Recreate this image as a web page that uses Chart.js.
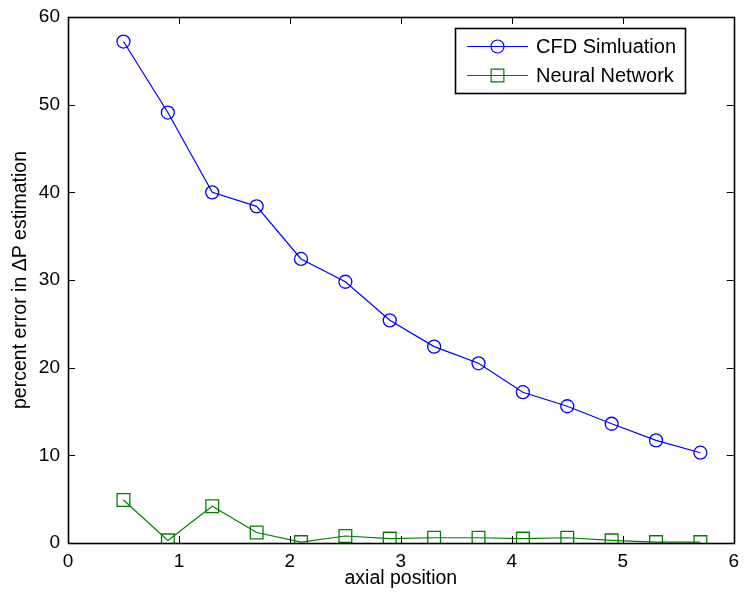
<!DOCTYPE html>
<html>
<head>
<meta charset="utf-8">
<script src="https://cdn.jsdelivr.net/npm/chart.js@4/dist/chart.umd.min.js"></script>
<style>
  html, body { margin: 0; padding: 0; background: #fff; }
  #wrap { width: 744px; height: 596px; }
</style>
</head>
<body>
<div id="wrap"><canvas id="c" width="744" height="596"></canvas></div>
<script>
// ---- data ----
const axialPosition = [0.5, 0.9, 1.3, 1.7, 2.1, 2.5, 2.9, 3.3, 3.7, 4.1, 4.5, 4.9, 5.3, 5.7];
const cfdSimulation = [57.2, 49.1, 40.0, 38.4, 32.4, 29.8, 25.4, 22.4, 20.5, 17.2, 15.6, 13.6, 11.7, 10.3];
const neuralNetwork = [4.9, 0.3, 4.2, 1.2, 0.1, 0.8, 0.5, 0.6, 0.6, 0.5, 0.6, 0.3, 0.1, 0.1];
const seriesNames = ['CFD Simluation', 'Neural Network'];
const xTicks = [0, 1, 2, 3, 4, 5, 6];
const yTicks = [0, 10, 20, 30, 40, 50, 60];
const xTitle = 'axial position';
const yTitle = 'percent error in \u0394P estimation';

const FONT = 'Liberation Sans, Arial, Helvetica, sans-serif';
const FS = 19;

function pts(xs, ys) { return xs.map((x, i) => ({ x: x, y: ys[i] })); }

// inward ticks on all four sides + box + legend
const boxPlugin = {
  id: 'boxPlugin',
  afterDatasetsDraw(chart) {
    const ctx = chart.ctx;
    const a = chart.chartArea;
    const xs = chart.scales.x, ys = chart.scales.y;
    const L = 7;
    ctx.save();
    ctx.strokeStyle = '#000';
    ctx.lineWidth = 1;
    ctx.beginPath();
    xTicks.forEach(v => {
      const p = Math.round(xs.getPixelForValue(v)) + 0.5;
      ctx.moveTo(p, a.bottom); ctx.lineTo(p, a.bottom - L);
      ctx.moveTo(p, a.top); ctx.lineTo(p, a.top + L);
    });
    yTicks.forEach(v => {
      const p = Math.round(ys.getPixelForValue(v)) + 0.5;
      ctx.moveTo(a.left, p); ctx.lineTo(a.left + L, p);
      ctx.moveTo(a.right, p); ctx.lineTo(a.right - L, p);
    });
    ctx.stroke();
    ctx.lineWidth = 1.6;
    ctx.strokeRect(Math.round(a.left) + 0.5, Math.round(a.top) + 0.5,
                   Math.round(a.right - a.left), Math.round(a.bottom - a.top));

    // legend box
    const bx = 455, by = 28, bw = 230, bh = 65;
    ctx.fillStyle = '#fff';
    ctx.fillRect(bx, by, bw, bh);
    ctx.lineWidth = 1.6;
    ctx.strokeStyle = '#000';
    ctx.strokeRect(bx + 0.5, by + 0.5, bw, bh);
    ctx.font = '20px ' + FONT;
    ctx.textBaseline = 'middle';
    ctx.textAlign = 'left';
    chart.data.datasets.forEach((ds, i) => {
      const yy = by + 18 + i * 29;
      ctx.strokeStyle = ds.borderColor;
      ctx.lineWidth = 1.2;
      ctx.beginPath();
      ctx.moveTo(467, yy + 0.5); ctx.lineTo(528, yy + 0.5);
      ctx.stroke();
      ctx.fillStyle = 'rgba(0,0,0,0)';
      Chart.helpers.drawPoint(ctx, {
        pointStyle: ds.pointStyle, radius: ds.pointRadius, borderWidth: 1.2
      }, 497.5, yy + 0.5);
      ctx.fillStyle = '#000';
      ctx.fillText(ds.label, 536, yy + 1);
    });
    ctx.restore();
  }
};

new Chart(document.getElementById('c'), {
  type: 'line',
  data: {
    datasets: [
      {
        label: seriesNames[0],
        data: pts(axialPosition, cfdSimulation),
        borderColor: '#0000ff',
        backgroundColor: 'rgba(0,0,0,0)',
        borderWidth: 1.2,
        pointStyle: 'circle',
        pointRadius: 6.5,
        pointBorderWidth: 1.3,
        pointBorderColor: '#0000ff',
        pointBackgroundColor: 'rgba(0,0,0,0)',
        tension: 0
      },
      {
        label: seriesNames[1],
        data: pts(axialPosition, neuralNetwork),
        borderColor: '#008000',
        backgroundColor: 'rgba(0,0,0,0)',
        borderWidth: 1.2,
        pointStyle: 'rect',
        pointRadius: 9,
        pointBorderWidth: 1.3,
        pointBorderColor: '#008000',
        pointBackgroundColor: 'rgba(0,0,0,0)',
        tension: 0
      }
    ]
  },
  options: {
    responsive: false,
    animation: false,
    devicePixelRatio: 1,
    layout: { padding: { top: 17, right: 7, left: 0, bottom: 0 } },
    plugins: {
      legend: { display: false },
      tooltip: { enabled: false }
    },
    scales: {
      x: {
        type: 'linear',
        min: 0, max: 6,
        afterBuildTicks(s) { s.ticks = xTicks.map(v => ({ value: v })); },
        afterFit(s) { s.height = 53; s.paddingLeft = 0; s.paddingRight = 0; },
        grid: { display: false, drawTicks: false },
        border: { display: false },
        ticks: { color: '#000', font: { family: FONT, size: FS }, padding: 7, maxRotation: 0 },
        title: { display: true, text: xTitle, color: '#000', font: { family: FONT, size: 19.5 }, padding: { top: 0, bottom: 6 } }
      },
      y: {
        type: 'linear',
        min: 0, max: 60,
        afterBuildTicks(s) { s.ticks = yTicks.map(v => ({ value: v })); },
        afterFit(s) { s.width = 68; s.paddingTop = 0; s.paddingBottom = 0; },
        grid: { display: false, drawTicks: false },
        border: { display: false },
        ticks: { color: '#000', font: { family: FONT, size: FS }, padding: 8 },
        title: { display: true, text: yTitle, color: '#000', font: { family: FONT, size: 19.5 }, padding: { top: 9, bottom: 0 } }
      }
    }
  },
  plugins: [boxPlugin]
});
</script>
</body>
</html>
